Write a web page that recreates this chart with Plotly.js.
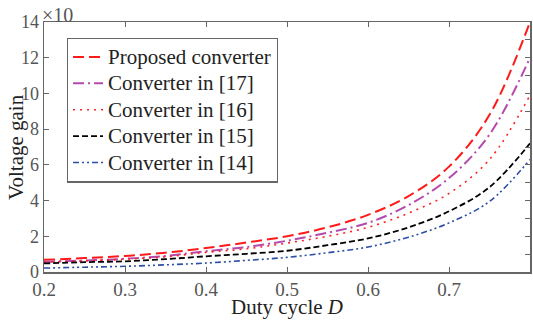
<!DOCTYPE html>
<html>
<head>
<meta charset="utf-8">
<script src="https://cdn.plot.ly/plotly-3.0.1.min.js"></script>
<style>html,body{margin:0;padding:0;background:#fff;}#chart{width:533px;height:320px;}</style>
</head>
<body>
<div id="chart"></div>
<script>
// Duty cycle values
const dutyCycle = [0.2, 0.25, 0.3, 0.35, 0.4, 0.45, 0.5, 0.55, 0.6, 0.65, 0.7, 0.75, 0.8];
// Voltage gain (axis units, x10)
const gainProposed = [0.68, 0.78, 0.90, 1.08, 1.34, 1.65, 2.00, 2.50, 3.20, 4.25, 5.90, 8.80, 14.0];
const gainRef17    = [0.58, 0.64, 0.74, 0.90, 1.16, 1.40, 1.75, 2.20, 2.75, 3.75, 5.26, 7.70, 12.0];
const gainRef16    = [0.56, 0.62, 0.72, 0.85, 1.10, 1.30, 1.62, 2.00, 2.50, 3.30, 4.40, 6.30, 9.90];
const gainRef15    = [0.48, 0.55, 0.60, 0.72, 0.88, 1.02, 1.19, 1.50, 1.88, 2.50, 3.40, 4.75, 7.20];
const gainRef14    = [0.22, 0.27, 0.32, 0.40, 0.50, 0.65, 0.82, 1.08, 1.40, 1.95, 2.75, 3.95, 6.30];
const seriesNames  = ["Proposed converter", "Converter in [17]", "Converter in [16]", "Converter in [15]", "Converter in [14]"];
const xTicks = [0.2, 0.3, 0.4, 0.5, 0.6, 0.7, 0.8];
const yTicks = [0, 2, 4, 6, 8, 10, 12, 14];

const series = [gainProposed, gainRef17, gainRef16, gainRef15, gainRef14];
const styles = [
  {color: "#ff1a1a", width: 2, dash: "11px,5px"},
  {color: "#b44aae", width: 2, dash: "11px,4px,2px,4px"},
  {color: "#ff2020", width: 1.6, dash: "2px,5px"},
  {color: "#000000", width: 1.8, dash: "6px,3px"},
  {color: "#2c4ea6", width: 1.6, dash: "6px,3px,2px,3px,2px,3px"}
];
const traces = series.map((s, i) => ({
  x: dutyCycle, y: s, name: '<span style="font-size:21px">' + seriesNames[i] + '</span>',
  type: "scatter", mode: "lines",
  line: Object.assign({shape: "spline", smoothing: 1}, styles[i])
}));
traces.push({x: [0.2], y: [0], yaxis: "y2", mode: "markers", marker: {opacity: 0}, showlegend: false, hoverinfo: "skip"});

const FF = "Liberation Serif";
const layout = {
  width: 533, height: 320,
  margin: {l: 44, r: 3, t: 22, b: 48},
  paper_bgcolor: "#fff", plot_bgcolor: "#fff",
  font: {family: FF, color: "#222"},
  showlegend: true,
  legend: {x: 0.047, y: 0.938, xanchor: "left", yanchor: "top",
    bgcolor: "#fff", bordercolor: "#666", borderwidth: 1.2,
    font: {family: FF, size: 18, color: "#222"},
    itemwidth: 30, tracegroupgap: 0},
  xaxis: {range: [0.2, 0.8], tickvals: xTicks, ticktext: xTicks.map(v => v.toFixed(1)),
    ticks: "inside", ticklen: 5, tickcolor: "#666", tickwidth: 1,
    showline: true, linecolor: "#666", linewidth: 1.5, mirror: "ticks",
    showgrid: false, zeroline: false,
    tickfont: {family: FF, size: 19, color: "#555"}},
  yaxis: {range: [0, 14], tickvals: yTicks, ticktext: yTicks.map(String),
    ticks: "inside", ticklen: 5, tickcolor: "#666", tickwidth: 1,
    showline: true, linecolor: "#666", linewidth: 1.5, mirror: true,
    showgrid: false, zeroline: false,
    tickfont: {family: FF, size: 18, color: "#555"}},
  yaxis2: {range: [0, 14], overlaying: "y", side: "right", dtick: 1,
    ticks: "inside", ticklen: 5, tickcolor: "#666", showticklabels: false,
    showgrid: false, zeroline: false, showline: false},
  annotations: [
    {xref: "paper", yref: "paper", x: 0, y: 1, xanchor: "left", yanchor: "bottom",
     text: "×10", showarrow: false, font: {family: FF, size: 20, color: "#555"}, yshift: -6, xshift: -4},
    {xref: "paper", yref: "paper", x: 0.5, y: 0, xanchor: "center", yanchor: "middle",
     text: "Duty cycle <i>D</i>", showarrow: false, font: {family: FF, size: 21, color: "#222"}, yshift: -35},
    {xref: "paper", yref: "paper", x: 0, y: 0.5, xanchor: "center", yanchor: "middle", textangle: -90,
     text: "Voltage gain", showarrow: false, font: {family: FF, size: 21, color: "#222"}, xshift: -28}
  ]
};
Plotly.newPlot("chart", traces, layout, {displayModeBar: false, staticPlot: true});
</script>
</body>
</html>
